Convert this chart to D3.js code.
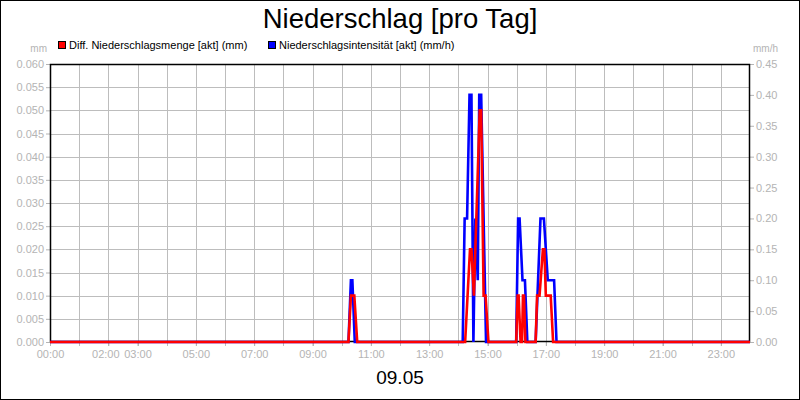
<!DOCTYPE html>
<html>
<head>
<meta charset="utf-8">
<script src="https://cdn.jsdelivr.net/npm/d3@7"></script>
<style>
  body { margin: 0; background: #fff; }
  svg { display: block; font-family: "Liberation Sans", Arial, sans-serif; }
</style>
</head>
<body>
<svg id="chart"></svg>
<script>
// Diff. Niederschlagsmenge (mm), red series
const redTimes = ["00:00", "10:14", "10:19", "10:26", "10:32",
  "14:14", "14:24", "14:27", "14:32", "14:44", "14:47", "14:52", "14:56", "15:02",
  "15:59", "16:02", "16:04", "16:08", "16:11", "16:13", "16:15", "16:18",
  "16:39", "16:42", "16:47", "16:54", "16:57", "17:00", "17:10", "17:15", "24:00"];
const redValues = [0, 0, 0.01, 0.01, 0,
  0, 0.02, 0.02, 0.01, 0.05, 0.05, 0.01, 0.01, 0,
  0, 0.01, 0.01, 0, 0, 0.01, 0.01, 0,
  0, 0.01, 0.01, 0.02, 0.02, 0.01, 0.01, 0, 0];

// Niederschlagsintensitaet (mm/h), blue series
const blueTimes = ["00:00", "10:14", "10:19", "10:22", "10:27",
  "14:09", "14:13", "14:18", "14:23", "14:27", "14:31", "14:35", "14:40", "14:43", "14:47", "14:57",
  "15:59", "16:03", "16:06", "16:12", "16:17", "16:22",
  "16:39", "16:49", "16:56", "17:04", "17:17", "17:22", "24:00"];
const blueValues = [0, 0, 0.1, 0.1, 0,
  0, 0.2, 0.2, 0.4, 0.4, 0, 0.2, 0.1, 0.4, 0.4, 0,
  0, 0.2, 0.2, 0.1, 0.1, 0,
  0, 0.2, 0.2, 0.1, 0.1, 0, 0];

const xTickLabels = ["00:00", "02:00", "03:00", "05:00", "07:00", "09:00", "11:00",
  "13:00", "15:00", "17:00", "19:00", "21:00", "23:00"];
const leftTicks = d3.range(0, 13).map(i => i * 0.005);
const rightTicks = d3.range(0, 10).map(i => i * 0.05);

const width = 800, height = 400;
const margin = { left: 50, right: 50, top: 64, bottom: 58 };
const grey = "#b4b4b4";
const gridGrey = "#bdbdbd";

const toMin = s => { const p = s.split(":"); return +p[0] * 60 + +p[1]; };

const svg = d3.select("#chart").attr("width", width).attr("height", height);

// outer frame
svg.append("rect").attr("x", 0.5).attr("y", 0.5)
  .attr("width", width - 1).attr("height", height - 1)
  .attr("fill", "#fff").attr("stroke", "#000");

const x = d3.scaleLinear().domain([0, 1440]).range([margin.left, width - margin.right]);
const yL = d3.scaleLinear().domain([0, 0.06]).range([height - margin.bottom, margin.top]);
const yR = d3.scaleLinear().domain([0, 0.45]).range([height - margin.bottom, margin.top]);

const x0 = x.range()[0], x1 = x.range()[1];
const yb = yL.range()[0], yt = yL.range()[1];

// grid: hourly verticals, extended a bit below as ticks
svg.append("g").selectAll("line")
  .data(d3.range(1, 24))
  .join("line")
  .attr("x1", d => Math.round(x(d * 60)) + 0.5).attr("x2", d => Math.round(x(d * 60)) + 0.5)
  .attr("y1", yt).attr("y2", yb + 4)
  .attr("stroke", gridGrey).attr("stroke-width", 1);

svg.append("g").selectAll("line")
  .data(leftTicks.slice(1, -1))
  .join("line")
  .attr("x1", x0).attr("x2", x1)
  .attr("y1", d => Math.round(yL(d)) + 0.5).attr("y2", d => Math.round(yL(d)) + 0.5)
  .attr("stroke", gridGrey).attr("stroke-width", 1);

// left axis
const leftAxis = svg.append("g")
  .attr("transform", `translate(${x0},0)`)
  .call(d3.axisLeft(yL).tickValues(leftTicks).tickFormat(d3.format(".3f")).tickSize(4).tickPadding(2));
leftAxis.select(".domain").remove();

// right axis
const rightAxis = svg.append("g")
  .attr("transform", `translate(${x1},0)`)
  .call(d3.axisRight(yR).tickValues(rightTicks).tickFormat(d3.format(".2f")).tickSize(4).tickPadding(2));
rightAxis.select(".domain").remove();

// bottom axis
const bottomAxis = svg.append("g")
  .attr("transform", `translate(0,${yb})`)
  .call(d3.axisBottom(x).tickValues(xTickLabels.map(toMin))
    .tickFormat((d, i) => xTickLabels[i]).tickSize(4).tickPadding(4));
bottomAxis.select(".domain").remove();
// the 02:00 label sits a little to the left so it does not touch 03:00
bottomAxis.selectAll(".tick text").filter((d, i) => xTickLabels[i] === "02:00").attr("dx", -3);

[leftAxis, rightAxis, bottomAxis].forEach(g => {
  g.selectAll(".tick line").attr("stroke", grey);
  g.selectAll(".tick text").attr("fill", grey).attr("font-size", 11)
    .attr("font-family", "Liberation Sans, Arial, sans-serif");
});

// plot frame
svg.append("rect")
  .attr("x", x0 + 0.5).attr("y", yt + 0.5)
  .attr("width", x1 - x0 - 1).attr("height", yb - yt - 1)
  .attr("fill", "none").attr("stroke", "#000").attr("stroke-width", 1.5);

// lines
const blueLine = d3.line()
  .x((d, i) => x(toMin(blueTimes[i])))
  .y(d => yR(d));
const redLine = d3.line()
  .x((d, i) => x(toMin(redTimes[i])))
  .y(d => yL(d));

svg.append("path").datum(blueValues)
  .attr("d", blueLine).attr("fill", "none")
  .attr("stroke", "#0000ff").attr("stroke-width", 2.6);
svg.append("path").datum(redValues)
  .attr("d", redLine).attr("fill", "none")
  .attr("stroke", "#ff0000").attr("stroke-width", 2.6);

// unit labels
svg.append("text").attr("x", 47).attr("y", 52).attr("text-anchor", "end")
  .attr("font-size", 10).attr("fill", grey).text("mm");
svg.append("text").attr("x", 753).attr("y", 52).attr("text-anchor", "start")
  .attr("font-size", 10).attr("fill", grey).text("mm/h");

// title
svg.append("text").attr("x", width / 2).attr("y", 28).attr("text-anchor", "middle")
  .attr("font-size", 27.5).attr("fill", "#000").text("Niederschlag [pro Tag]");

// legend
const legend = [
  { label: "Diff. Niederschlagsmenge [akt] (mm)", color: "#ff0000", x: 58 },
  { label: "Niederschlagsintensität [akt] (mm/h)", color: "#0000ff", x: 268 }
];
const lg = svg.append("g").selectAll("g").data(legend).join("g")
  .attr("transform", d => `translate(${d.x},41)`);
lg.append("rect").attr("x", 0.5).attr("y", 0.5).attr("width", 7).attr("height", 7)
  .attr("fill", d => d.color).attr("stroke", "#000").attr("stroke-width", 1);
lg.append("text").attr("x", 11).attr("y", 8).attr("font-size", 11).attr("fill", "#000")
  .text(d => d.label);

// date label
svg.append("text").attr("x", width / 2).attr("y", 384).attr("text-anchor", "middle")
  .attr("font-size", 19).attr("fill", "#000").text("09.05");
</script>
</body>
</html>
